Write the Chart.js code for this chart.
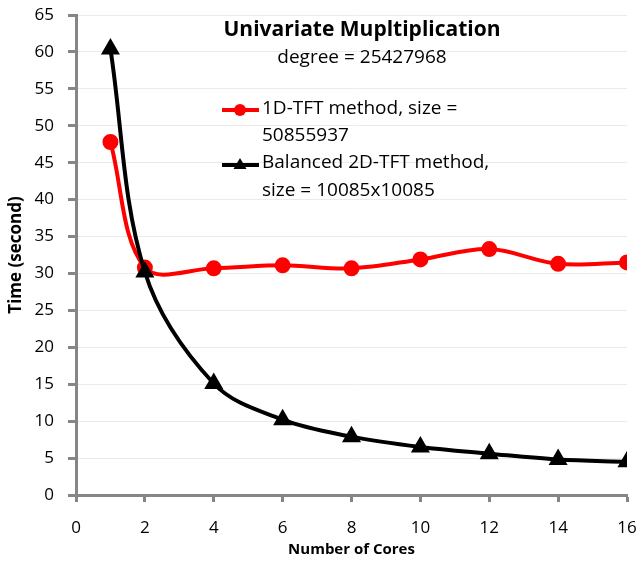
<!DOCTYPE html>
<html lang="en">
<head>
    <meta charset="UTF-8">
    <title>Univariate Mupltiplication</title>
    <style>
        html, body { margin: 0; padding: 0; background: #fff; }
        #box { width: 642px; height: 561px; }
    </style>
</head>
<body>
    <div id="box">
        <canvas id="myChart" width="642" height="561"></canvas>
    </div>

    <script src="https://cdn.jsdelivr.net/npm/chart.js"></script>
    <script>
        // values
        const v_cores = [1, 2, 4, 6, 8, 10, 12, 14, 16];
        const v_tft1d = [47.8, 30.8, 30.7, 31.1, 30.7, 31.9, 33.3, 31.3, 31.5];
        const v_tft2d = [60.4, 30.2, 15.1, 10.2, 7.9, 6.5, 5.6, 4.8, 4.5];

        const v_title = "Univariate Mupltiplication";
        const v_subtitle = "degree = 25427968";
        const v_label1 = ["1D-TFT method, size =", "50855937"];
        const v_label2 = ["Balanced 2D-TFT method,", "size = 10085x10085"];
        const v_xTitle = "Number of Cores";
        const v_yTitle = "Time (second)";

        const FONT = "'Open Sans', 'Liberation Sans', sans-serif";

        function f_points(xs, ys) {
            let v_out = [];
            for (let i = 0; i < xs.length; i++) {
                v_out.push({ x: xs[i], y: ys[i] });
            }
            return v_out;
        }

        // title + legend drawn inside the plot, like the excel chart
        const p_inside = {
            id: "inside",
            afterDraw(chart) {
                const c = chart.ctx;
                c.save();
                c.fillStyle = "#000";
                c.textBaseline = "middle";

                c.textAlign = "center";
                c.font = "bold 21px " + FONT;
                c.fillText(v_title, 362, 30);
                c.font = "19px " + FONT;
                c.fillText(v_subtitle, 362, 58);

                c.textAlign = "left";
                c.fillText(v_label1[0], 262, 109);
                c.fillText(v_label1[1], 262, 136);
                c.fillText(v_label2[0], 262, 163);
                c.fillText(v_label2[1], 262, 191);

                // red marker
                c.strokeStyle = "#ff0000";
                c.lineWidth = 4;
                c.beginPath();
                c.moveTo(222, 110);
                c.lineTo(259, 110);
                c.stroke();
                c.fillStyle = "#ff0000";
                c.beginPath();
                c.arc(240, 110, 6, 0, Math.PI * 2);
                c.fill();

                // black marker
                c.strokeStyle = "#000";
                c.beginPath();
                c.moveTo(222, 165);
                c.lineTo(259, 165);
                c.stroke();
                c.fillStyle = "#000";
                c.beginPath();
                c.moveTo(240, 158);
                c.lineTo(246.5, 169);
                c.lineTo(233.5, 169);
                c.closePath();
                c.fill();
                c.restore();
            }
        };

        const ctx = document.querySelector("#myChart");

        new Chart(ctx, {
            type: "line",
            data: {
                datasets: [
                    {
                        label: v_label2.join(" "),
                        data: f_points(v_cores, v_tft2d),
                        borderColor: "#000",
                        backgroundColor: "#000",
                        borderWidth: 4,
                        pointStyle: "triangle",
                        pointRadius: 7,
                        tension: 0.35,
                        order: 1
                    },
                    {
                        label: v_label1.join(" "),
                        data: f_points(v_cores, v_tft1d),
                        borderColor: "#ff0000",
                        backgroundColor: "#ff0000",
                        borderWidth: 4,
                        pointStyle: "circle",
                        pointRadius: 6,
                        tension: 0.35,
                        order: 2
                    }
                ]
            },
            options: {
                responsive: false,
                animation: false,
                layout: { padding: { left: 0, right: 15, top: 15, bottom: 0 } },
                plugins: {
                    legend: { display: false },
                    tooltip: { enabled: false }
                },
                scales: {
                    x: {
                        type: "linear",
                        min: 0,
                        max: 16,
                        ticks: {
                            stepSize: 2,
                            color: "#000",
                            font: { size: 17, family: FONT },
                            padding: 16
                        },
                        grid: {
                            drawOnChartArea: false,
                            drawTicks: true,
                            tickLength: 7,
                            tickWidth: 3,
                            tickColor: "#868686"
                        },
                        border: { color: "#868686", width: 3 },
                        title: {
                            display: true,
                            text: v_xTitle,
                            color: "#000",
                            font: { size: 15, weight: "bold", family: FONT },
                            padding: { top: 0, bottom: 2 }
                        },
                        afterFit(scale) {
                            scale.height = 66;
                            scale.paddingLeft = 0;
                            scale.paddingRight = 0;
                        }
                    },
                    y: {
                        min: 0,
                        max: 65,
                        ticks: {
                            stepSize: 5,
                            color: "#000",
                            font: { size: 17, family: FONT },
                            padding: 14
                        },
                        grid: {
                            color: "#ebebeb",
                            lineWidth: 1,
                            tickLength: 8,
                            tickWidth: 3,
                            tickColor: "#868686"
                        },
                        border: { color: "#868686", width: 3 },
                        title: {
                            display: true,
                            text: v_yTitle,
                            color: "#000",
                            font: { size: 17, weight: "bold", family: FONT },
                            padding: { top: 6, bottom: 0 }
                        },
                        afterFit(scale) {
                            scale.width = 76;
                            scale.paddingTop = 0;
                            scale.paddingBottom = 0;
                        }
                    }
                }
            },
            plugins: [p_inside]
        });
    </script>
</body>
</html>
